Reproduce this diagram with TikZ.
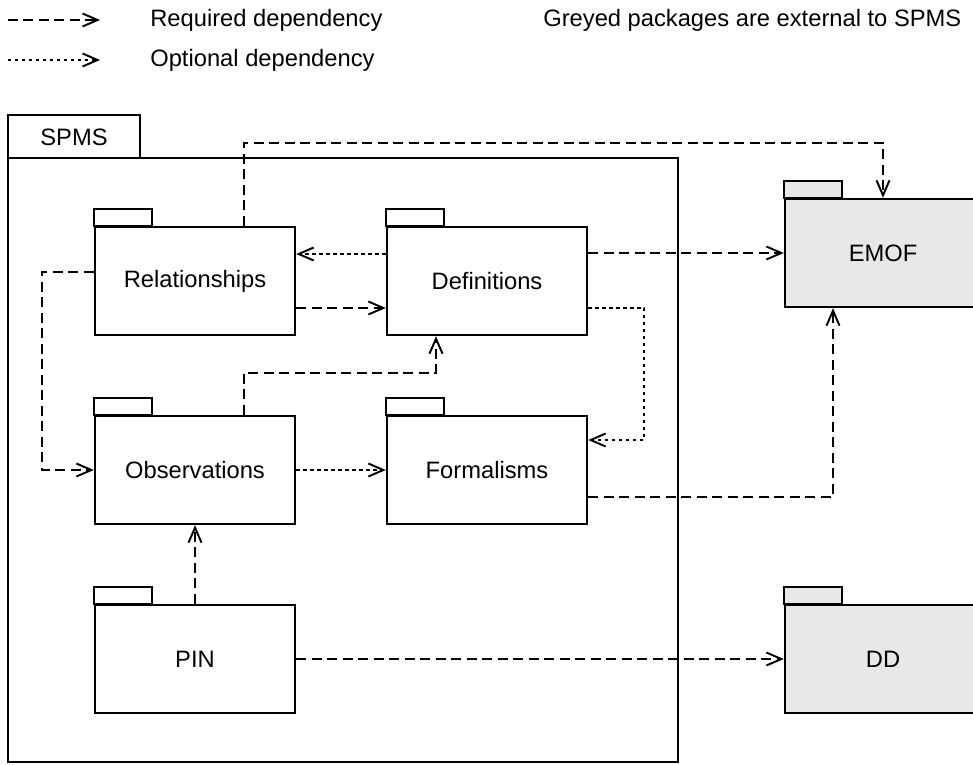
\documentclass[tikz,border=0pt]{standalone}
\usepackage{fontspec}
\setmainfont{Liberation Sans}
\definecolor{extgrey}{RGB}{232, 232, 232}
\usetikzlibrary{arrows.meta, calc}

\tikzset{
  pkg/.style={draw, line width=1.4pt, fill=white, minimum width=4cm, minimum height=2.16cm, inner sep=0pt, font=\fontsize{13.5}{16}\selectfont},
  extpkg/.style={pkg, fill=extgrey, minimum width=3.92cm},
  req/.style={line width=1.3pt, dash pattern=on 2mm off 1.1mm, -{Straight Barb[length=3mm, width=2.6mm, line width=1.1pt]}},
  opt/.style={line width=1.3pt, dash pattern=on 0.7mm off 0.7mm, -{Straight Barb[length=3mm, width=2.6mm, line width=1.1pt]}},
  lbl/.style={anchor=west, inner sep=0pt, font=\fontsize{13.5}{16}\selectfont}
}
% tab on top of a package box
\newcommand{\pkgtab}[2][white]{\draw[line width=1.4pt, fill=#1] (#2.north west) rectangle ++(58,-17);}

\begin{document}
\begin{tikzpicture}[x=0.02cm, y=-0.02cm]
  \useasboundingbox (0,0) rectangle (973,764);
  \clip (0,0) rectangle (973,764);

  % Legend
  \coordinate (reqa) at (8,20);
  \coordinate (reqb) at (100,20);
  \coordinate (opta) at (8,60);
  \coordinate (optb) at (100,60);
  \draw[req] (reqa) -- (reqb);
  \draw[opt] (opta) -- (optb);
  \node[lbl] (reqtxt) at (150,20) {Required dependency};
  \node[lbl] (opttxt) at (150,60) {Optional dependency};
  \node[lbl] (exttxt) at (543,20) {Greyed packages are external to SPMS};

  % SPMS
  \draw[line width=1.4pt] (8,115) rectangle (140,158);
  \node[font=\fontsize{13.5}{16}\selectfont] (spms) at (74,137) {SPMS};
  \draw[line width=1.4pt] (8,158) rectangle (678,762);

  % Packages
  \node[pkg] (rel) at (195,281) {Relationships};
  \node[pkg] (defs) at (487,281) {Definitions};
  \node[pkg] (obs) at (195,470) {Observations};
  \node[pkg] (form) at (487,470) {Formalisms};
  \node[pkg] (pin) at (195,659) {PIN};
  \node[extpkg] (emof) at (883,253) {EMOF};
  \node[extpkg] (dd) at (883,659) {DD};
  \pkgtab{rel}
  \pkgtab{defs}
  \pkgtab{obs}
  \pkgtab{form}
  \pkgtab{pin}
  \pkgtab[extgrey]{emof}
  \pkgtab[extgrey]{dd}

  % Dependencies
  \draw[req] ($(rel.north)+(49,0)$) -- ++(0,-83) -| (emof.north);
  \draw[opt] ($(defs.west)+(0,-27)$) -- ($(rel.east)+(0,-27)$);
  \draw[req] ($(rel.east)+(0,27)$) -- ($(defs.west)+(0,27)$);
  \draw[req] (defs.east |- emof.west) -- (emof.west);
  \draw[req] ($(rel.west)+(0,-9)$) -- ++(-52,0) |- (obs.west);
  \draw[opt] ($(defs.east)+(0,27)$) -- ++(56,0) |- ($(form.east)+(0,-30)$);
  \draw[req] ($(obs.north)+(49,0)$) -- ++(0,-42) -| ($(defs.south)+(-51,0)$);
  \draw[opt] (obs.east) -- (form.west);
  \draw[req] ($(form.east)+(0,27)$) -| ($(emof.south)+(-50,0)$);
  \draw[req] (pin.north) -- (obs.south);
  \draw[req] (pin.east) -- (dd.west);
\end{tikzpicture}
\end{document}
